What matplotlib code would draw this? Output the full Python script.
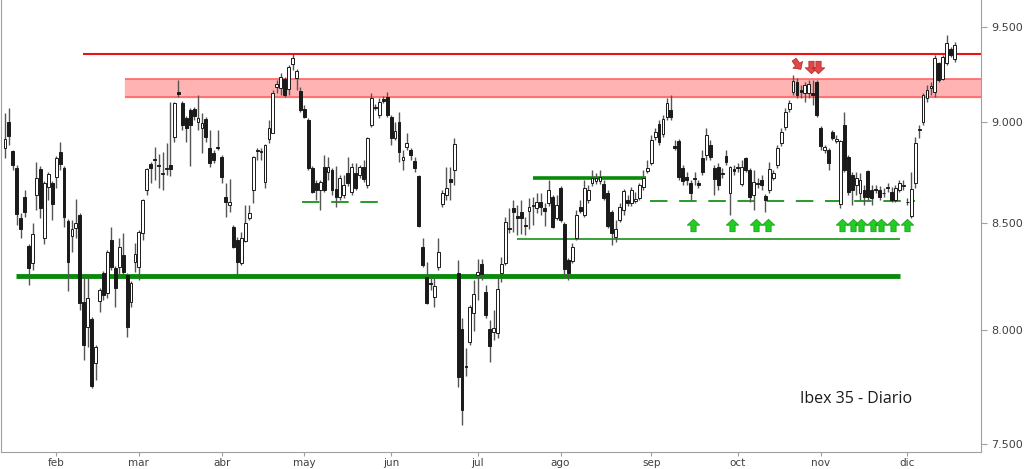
import matplotlib
matplotlib.use("Agg")
import matplotlib.pyplot as plt
from matplotlib.path import Path
from matplotlib.transforms import Affine2D
from matplotlib.ticker import FixedLocator, FuncFormatter, NullLocator

# Ibex 35, sesiones diarias (apertura, maximo, minimo, cierre)
opens = [
    8870, 9003, 8855, 8771, 8526, 8628, 8391, 8311, 8638, 8766,
    8430, 8677, 8696, 8726, 8850, 8771, 8511, 8439, 8478, 8540,
    8130, 8015, 8052, 7853, 8134, 8264, 8171, 8420, 8287, 8292,
    8349, 8255, 8130, 8315, 8292, 8454, 8662, 8791, 8815, 8786,
    8741, 8766, 8786, 8927, 9156, 9100, 9023, 9064, 9069, 9003,
    8972, 9018, 8870, 8845, 8876, 8825, 8628, 8589, 8482, 8420,
    8311, 8415, 8526, 8662, 8860, 8852, 8701, 8916, 8947, 9182,
    9177, 9224, 9172, 9303, 9229, 9162, 9069, 9013, 8771, 8696,
    8662, 8776, 8751, 8761, 8667, 8628, 8638, 8746, 8652, 8746,
    8736, 8776, 8687, 8988, 9079, 9038, 9120, 9131, 9028, 8921,
    9003, 8810, 8876, 8860, 8805, 8731, 8386, 8245, 8217, 8153,
    8292, 8594, 8638, 8716, 8761, 8264, 8006, 7840, 7947, 8079,
    8255, 8306, 8176, 8006, 7992, 7988, 8264, 8311, 8478, 8574,
    8535, 8555, 8492, 8560, 8584, 8574, 8603, 8574, 8599, 8628,
    8526, 8672, 8497, 8325, 8320, 8430, 8579, 8540, 8613, 8696,
    8706, 8706, 8692, 8648, 8555, 8435, 8516, 8564, 8613, 8599,
    8608, 8623, 8677, 8756, 8796, 8927, 8993, 8942, 9028, 9064,
    8881, 8906, 8771, 8726, 8696, 8721, 8696, 8820, 8835, 8886,
    8771, 8776, 8746, 8830, 8648, 8766, 8776, 8692, 8820, 8761,
    8638, 8696, 8711, 8633, 8662, 8721, 8786, 8896, 8977, 9069,
    9156, 9208, 9167, 9151, 9151, 9151, 9208, 8972, 8860, 8860,
    8952, 8906, 8594, 8988, 8825, 8736, 8687, 8648, 8662, 8756,
    8662, 8667, 8662, 8645, 8670, 8652, 8613, 8662, 8680, 8605,
    8535, 8696, 8960, 9003, 9126, 9177, 9156, 9308, 9224, 9308,
    9382, 9329,
]
highs = [
    9050, 9074, 8862, 8786, 8550, 8662, 8401, 8502, 8800, 8781,
    8706, 8751, 8706, 8830, 8901, 8781, 8521, 8516, 8618, 8550,
    8245, 8245, 8061, 7933, 8194, 8273, 8372, 8482, 8297, 8430,
    8454, 8264, 8227, 8406, 8468, 8618, 8771, 8800, 8876, 8840,
    8850, 8896, 9105, 9105, 9219, 9110, 9033, 9074, 9079, 9141,
    9048, 9028, 8962, 8860, 8962, 8835, 8696, 8716, 8492, 8435,
    8459, 8589, 8589, 8830, 8870, 8870, 8890, 9013, 9167, 9219,
    9255, 9234, 9297, 9356, 9276, 9182, 9090, 9023, 8781, 8711,
    8711, 8835, 8825, 8771, 8781, 8736, 8736, 8825, 8796, 8796,
    8786, 8810, 8925, 9151, 9095, 9126, 9136, 9156, 9038, 9003,
    9054, 8860, 8947, 8870, 8825, 8736, 8430, 8315, 8245, 8245,
    8430, 8662, 8776, 8776, 8921, 8325, 8056, 7920, 8116, 8231,
    8330, 8330, 8208, 8047, 8093, 8245, 8339, 8530, 8574, 8613,
    8589, 8613, 8530, 8623, 8628, 8648, 8648, 8599, 8711, 8638,
    8638, 8680, 8507, 8335, 8406, 8564, 8613, 8711, 8687, 8761,
    8746, 8761, 8711, 8662, 8564, 8516, 8599, 8667, 8638, 8677,
    8652, 8696, 8761, 8810, 8937, 8972, 9013, 9038, 9126, 9141,
    8911, 8916, 8786, 8751, 8711, 8751, 8711, 8860, 8972, 8911,
    8786, 8796, 8771, 8860, 8780, 8786, 8796, 8810, 8825, 8771,
    8761, 8721, 8736, 8643, 8800, 8761, 8886, 8972, 9074, 9115,
    9245, 9229, 9193, 9208, 9219, 9219, 9219, 8982, 8886, 8870,
    8962, 8937, 8910, 9054, 8835, 8751, 8751, 8746, 8687, 8761,
    8687, 8687, 8682, 8672, 8696, 8677, 8687, 8711, 8711, 8623,
    8751, 8927, 8988, 9151, 9193, 9208, 9350, 9313, 9350, 9457,
    9393, 9420,
]
lows = [
    8820, 8886, 8761, 8492, 8430, 8530, 8208, 8278, 8564, 8526,
    8401, 8613, 8516, 8672, 8761, 8482, 8180, 8363, 8430, 8093,
    7866, 7924, 7743, 7778, 8084, 8139, 8148, 8278, 8107, 8245,
    8255, 7969, 8107, 8269, 8231, 8420, 8638, 8696, 8711, 8672,
    8662, 8736, 8731, 8901, 9131, 8962, 8901, 8781, 9013, 8962,
    8845, 8901, 8776, 8796, 8860, 8696, 8530, 8555, 8382, 8255,
    8301, 8410, 8516, 8599, 8810, 8810, 8672, 8896, 8945, 9151,
    9141, 9131, 9141, 9271, 9167, 9054, 9023, 8761, 8648, 8613,
    8564, 8652, 8711, 8638, 8579, 8613, 8623, 8682, 8638, 8662,
    8721, 8701, 8672, 8977, 9064, 9023, 9100, 9028, 8886, 8911,
    8800, 8761, 8860, 8810, 8751, 8482, 8292, 8120, 8185, 8107,
    8278, 8579, 8613, 8613, 8687, 7747, 7583, 7796, 7933, 7997,
    8139, 8231, 8056, 7857, 7956, 7965, 8222, 8301, 8454, 8459,
    8444, 8449, 8444, 8473, 8492, 8550, 8540, 8487, 8584, 8478,
    8516, 8507, 8245, 8231, 8311, 8420, 8550, 8530, 8599, 8682,
    8692, 8692, 8613, 8478, 8396, 8410, 8507, 8540, 8584, 8584,
    8599, 8613, 8662, 8746, 8786, 8911, 8886, 8927, 9013, 9013,
    8860, 8711, 8687, 8687, 8613, 8687, 8672, 8736, 8810, 8810,
    8638, 8662, 8721, 8786, 8540, 8736, 8751, 8682, 8751, 8603,
    8564, 8672, 8662, 8555, 8648, 8711, 8771, 8881, 8962, 9054,
    9141, 9126, 9126, 9105, 9126, 9090, 9028, 8860, 8845, 8761,
    8911, 8896, 8574, 8751, 8638, 8589, 8638, 8613, 8589, 8613,
    8589, 8648, 8613, 8628, 8652, 8603, 8603, 8652, 8662, 8589,
    8526, 8672, 8921, 8988, 9105, 9141, 9131, 9208, 9219, 9297,
    9340, 9313,
]
closes = [
    8915, 8932, 8786, 8545, 8473, 8555, 8287, 8449, 8721, 8574,
    8696, 8741, 8594, 8820, 8791, 8530, 8315, 8473, 8502, 8125,
    7933, 8148, 7752, 7924, 8185, 8162, 8363, 8292, 8194, 8386,
    8269, 8015, 8217, 8353, 8459, 8613, 8766, 8771, 8810, 8781,
    8746, 8771, 8766, 9100, 9146, 8988, 8972, 8988, 9033, 9023,
    8998, 8927, 8796, 8810, 8872, 8726, 8603, 8603, 8386, 8315,
    8430, 8502, 8550, 8825, 8856, 8855, 8886, 8972, 9151, 9198,
    9234, 9141, 9287, 9334, 9266, 9064, 9028, 8771, 8652, 8662,
    8701, 8662, 8776, 8662, 8628, 8721, 8687, 8696, 8776, 8672,
    8776, 8716, 8921, 9126, 9076, 9105, 9110, 9038, 8921, 8957,
    8850, 8825, 8896, 8835, 8771, 8487, 8301, 8125, 8214, 8203,
    8363, 8648, 8672, 8701, 8891, 7791, 7647, 7836, 8107, 8166,
    8269, 8259, 8070, 7929, 8010, 8189, 8306, 8507, 8474, 8555,
    8526, 8526, 8489, 8579, 8589, 8603, 8579, 8560, 8662, 8482,
    8589, 8516, 8282, 8264, 8386, 8540, 8560, 8672, 8662, 8721,
    8721, 8726, 8623, 8487, 8454, 8473, 8579, 8657, 8599, 8662,
    8618, 8687, 8721, 8771, 8911, 8952, 8901, 9018, 9100, 9028,
    8870, 8726, 8706, 8711, 8648, 8718, 8687, 8751, 8937, 8825,
    8716, 8687, 8743, 8800, 8776, 8756, 8772, 8776, 8761, 8628,
    8701, 8693, 8687, 8613, 8766, 8746, 8870, 8952, 9054, 9100,
    9214, 9141, 9156, 9193, 9198, 9141, 9038, 8881, 8876, 8796,
    8921, 8916, 8906, 8761, 8652, 8662, 8721, 8711, 8628, 8628,
    8623, 8664, 8628, 8648, 8674, 8613, 8672, 8696, 8684, 8603,
    8667, 8896, 8967, 9141, 9167, 9187, 9334, 9219, 9340, 9414,
    9350, 9403,
]

# meses: sesion del primer dia de cada mes
month_pos = [13, 34, 55, 76, 98, 120, 141, 164, 186, 207, 229]
month_lbl = ['feb', 'mar', 'abr', 'may', 'jun', 'jul', 'ago', 'sep', 'oct', 'nov', 'dic']
y_ticks = [7500, 8000, 8500, 9000, 9500]

# niveles (precio, sesion inicio, sesion fin)
resist_line = (9355, 19.8, 247.7)
resist_zone = (9130, 9225, 30.5, 247.7)
support_main = (8252, 2.8, 227.2)
support_may = (8603, 75.4, 97.2)
resist_ago = (8721, 134.0, 162.7)
support_thin = (8425, 130.0, 227.2)
support_sep = (8606, 163.7, 231.0)

green_arrows_x = [174.6, 184.5, 190.6, 193.7, 212.4, 215.2, 217.3, 220.3, 222.3, 225.4, 228.9]
green_arrows_y = 8490
red_arrows_x = [201.0, 204.6, 206.3]
red_arrows_y = [9300, 9285, 9285]


def block_arrow(up=True, angle=0):
    s = 1 if up else -1
    verts = [(0, s), (-1, 0.05 * s), (-0.42, 0.05 * s), (-0.42, -s),
             (0.42, -s), (0.42, 0.05 * s), (1, 0.05 * s), (0, s)]
    path = Path(verts, closed=True)
    if angle:
        path = path.transformed(Affine2D().rotate_deg(angle))
    return path


fig = plt.figure(figsize=(10.24, 4.69), dpi=100)
ax = fig.add_axes([1 / 1024, 17 / 469, 980 / 1024, 452 / 469])
ax.set_yscale('log')

n = len(closes)
xs = list(range(n))

# zona de resistencia
rz = resist_zone
ax.fill_between([rz[2], rz[3]], rz[0], rz[1], color='#ffb3b3', zorder=1)
ax.hlines([rz[0], rz[1]], rz[2], rz[3], color='#ff6666', lw=1.2, zorder=1)

ax.hlines(resist_line[0], resist_line[1], resist_line[2], color='#ee1111', lw=1.5, zorder=2)
ax.hlines(support_main[0], support_main[1], support_main[2], color='#0a8a0a', lw=3.5, zorder=2)
ax.hlines(resist_ago[0], resist_ago[1], resist_ago[2], color='#0a8a0a', lw=2.6, zorder=2)
ax.hlines(support_thin[0], support_thin[1], support_thin[2], color='#2a9a2a', lw=1.3, zorder=2)
ax.hlines(support_may[0], support_may[1], support_may[2], color='#2a9a2a', lw=1.4,
          linestyles=(0, (9, 6)), zorder=2)
ax.hlines(support_sep[0], support_sep[1], support_sep[2], color='#2a9a2a', lw=1.4,
          linestyles=(0, (9, 6)), zorder=2)

# velas
ax.vlines(xs, lows, highs, color='#555555', lw=1.0, zorder=3)
bottoms = [min(o, c) for o, c in zip(opens, closes)]
heights = [max(abs(c - o), 2) for o, c in zip(opens, closes)]
colors = ['white' if c >= o else '#1a1a1a' for o, c in zip(opens, closes)]
ax.bar(xs, heights, bottom=bottoms, width=0.72, color=colors,
       edgecolor='#1a1a1a', linewidth=0.7, zorder=4)

# flechas
ax.plot(green_arrows_x, [green_arrows_y] * len(green_arrows_x), linestyle='none',
        marker=block_arrow(True), markersize=9, color='#22cc22',
        markeredgecolor='#119911', markeredgewidth=0.5, zorder=5)
ax.plot(red_arrows_x[:1], red_arrows_y[:1], linestyle='none',
        marker=block_arrow(False, angle=35), markersize=9, color='#e04848',
        markeredgecolor='#b02020', markeredgewidth=0.5, zorder=5)
ax.plot(red_arrows_x[1:], red_arrows_y[1:], linestyle='none',
        marker=block_arrow(False), markersize=9, color='#e04848',
        markeredgecolor='#b02020', markeredgewidth=0.5, zorder=5)

ax.text(856, 469 - 399, 'Ibex 35 - Diario', transform=None, fontsize=11.5,
        family='Open Sans', color='#1a1a1a', ha='center', va='center')

ax.set_xlim(-1.0, 247.7)
ax.set_ylim(7467, 9646)

ax.yaxis.tick_right()
ax.yaxis.set_major_locator(FixedLocator(y_ticks))
ax.yaxis.set_minor_locator(NullLocator())
ax.yaxis.set_major_formatter(FuncFormatter(lambda v, p: f'{v:,.0f}'.replace(',', '.')))
ax.set_xticks(month_pos)
ax.set_xticklabels(month_lbl)
ax.tick_params(axis='both', colors='#a0a0a0', labelcolor='#404040', labelsize=8,
               length=4, width=0.8)
ax.tick_params(axis='x', labelsize=7.5, length=3, pad=1)
for side in ['left', 'bottom', 'right']:
    ax.spines[side].set_color('#a0a0a0')
ax.spines['top'].set_visible(False)

fig.savefig('out.png', dpi=100)
